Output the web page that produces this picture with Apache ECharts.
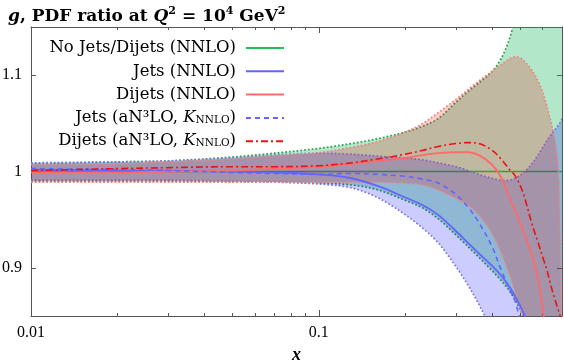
<!DOCTYPE html>
<html><head><meta charset="utf-8">
<script src="https://cdn.jsdelivr.net/npm/echarts@6/dist/echarts.min.js"></script>
<style>html,body{margin:0;padding:0;background:#fff}#c{width:564px;height:360px}</style>
</head><body><div id="c"></div>
<script>
// ---- data ----
const X = [0.01,0.02,0.03,0.05,0.07,0.1,0.13,0.16,0.2,0.23,0.26,0.3,0.33,0.36,0.4,0.43,0.46,0.48,0.5,0.52,0.55,0.58,0.6,0.62,0.64,0.66,0.68,0.69,0.7];
// No Jets/Dijets (NNLO) band
const greenHi = [1.008,1.010,1.011,1.015,1.019,1.024,1.029,1.034,1.041,1.047,1.055,1.072,1.083,1.092,1.104,1.117,1.138,1.158,1.18,1.2,1.23,1.26,1.28,1.3,1.32,1.34,1.36,1.37,1.38];
const greenLo = [0.990,0.990,0.990,0.989,0.989,0.988,0.986,0.981,0.970,0.962,0.951,0.934,0.922,0.911,0.897,0.887,0.876,0.867,0.857,0.847,0.83,0.81,0.79,0.77,0.75,0.73,0.71,0.70,0.69];
// Jets (NNLO) band
const blueHi = [1.009,1.010,1.011,1.014,1.017,1.019,1.018,1.016,1.014,1.012,1.009,1.005,1.001,0.997,0.993,0.991,0.991,0.993,0.996,1.0,1.008,1.018,1.025,1.032,1.038,1.043,1.048,1.051,1.055];
const blueLo = [0.991,0.991,0.991,0.990,0.989,0.987,0.983,0.973,0.955,0.941,0.926,0.901,0.882,0.862,0.835,0.815,0.795,0.78,0.765,0.75,0.725,0.70,0.68,0.66,0.64,0.62,0.60,0.59,0.58];
// Dijets (NNLO) band
const redHi = [1.007,1.008,1.010,1.013,1.016,1.0196,1.025,1.031,1.041,1.050,1.061,1.075,1.085,1.094,1.104,1.111,1.117,1.119,1.118,1.114,1.105,1.093,1.082,1.068,1.052,1.034,1.0,0.93,0.75];
const redLo = [0.989,0.989,0.989,0.989,0.989,0.989,0.989,0.989,0.988,0.986,0.981,0.972,0.965,0.955,0.936,0.916,0.893,0.876,0.859,0.842,0.82,0.79,0.77,0.75,0.73,0.71,0.69,0.68,0.67];
// central lines
const noJets = [1,1,1,1,1,1,1,1,1,1,1,1,1,1,1,1,1,1,1,1,1,1,1,1,1,1,1,1,1];
const jetsNNLO = [1.002,1.001,1.001,1.000,0.999,0.997,0.993,0.985,0.973,0.965,0.955,0.938,0.926,0.915,0.902,0.892,0.880,0.871,0.861,0.850,0.830];
const jetsN3LO = [1.003,1.002,1.001,0.999,0.998,0.997,0.998,0.997,0.995,0.992,0.988,0.976,0.963,0.947,0.922,0.898,0.878,0.866,0.847,0.830];
const dijetsNNLO = [0.999,0.999,1.000,1.001,1.003,1.005,1.008,1.011,1.014,1.017,1.019,1.020,1.020,1.017,1.007,0.994,0.973,0.960,0.947,0.934,0.913,0.886,0.857,0.820];
const dijetsN3LO = [1.001,1.003,1.004,1.005,1.005,1.006,1.009,1.013,1.018,1.022,1.026,1.029,1.030,1.029,1.022,1.013,1.002,0.996,0.986,0.972,0.946,0.925,0.911,0.898,0.882,0.868,0.856,0.850,0.843];
const legendNames = ['No Jets/Dijets (NNLO)','Jets (NNLO)','Dijets (NNLO)','Jets (aN³LO, KNNLO)','Dijets (aN³LO, KNNLO)'];
const yTicks = [0.9, 1, 1.1];
const xMajor = [0.01, 0.1];
const xMinor = [0.02,0.03,0.04,0.05,0.06,0.07,0.08,0.09,0.2,0.3,0.4,0.5,0.6,0.7];

// ---- build ----
const FONT = "'Liberation Serif', serif";
const WIDE = "'DejaVu Serif', serif";
const pair = (arr) => arr.map((v, i) => [X[i], v]);
const SM = 0.35;

// centripetal Catmull-Rom through pixel points (obtained from api.coord)
function crSample(pts, n) {
  const out = [];
  const d = (a, b) => Math.max(Math.sqrt(Math.hypot(b[0]-a[0], b[1]-a[1])), 1e-3);
  const L = (a, b, ta, tb, t) => {
    const u = (t - ta) / (tb - ta);
    return [a[0] + (b[0]-a[0])*u, a[1] + (b[1]-a[1])*u];
  };
  for (let i = 0; i < pts.length - 1; i++) {
    const p0 = pts[Math.max(i-1,0)], p1 = pts[i], p2 = pts[i+1], p3 = pts[Math.min(i+2, pts.length-1)];
    const t0 = 0, t1 = t0 + d(p0,p1), t2 = t1 + d(p1,p2), t3 = t2 + d(p2,p3);
    for (let k = 0; k < n; k++) {
      const t = t1 + (t2 - t1) * k / n;
      const A1 = L(p0,p1,t0,t1,t), A2 = L(p1,p2,t1,t2,t), A3 = L(p2,p3,t2,t3,t);
      const B1 = L(A1,A2,t0,t2,t), B2 = L(A2,A3,t1,t3,t);
      out.push(L(B1,B2,t1,t2,t));
    }
  }
  out.push(pts[pts.length-1]);
  return out;
}

function band(name, lo, hi, fill, edge) {
  return {
    type:'custom', name, coordinateSystem:'cartesian2d', xAxisIndex:0, yAxisIndex:0,
    data: X.map((x, i) => [x, lo[i], hi[i]]), encode:{x:0, y:[1,2]}, silent:true, z:2,
    renderItem: (params, api) => {
      if (params.dataIndex !== 0) return null;
      const up = crSample(X.map((x, i) => api.coord([x, hi[i]])), 12);
      const dn = crSample(X.map((x, i) => api.coord([x, lo[i]])), 12);
      const cs = params.coordSys;
      const dot = {stroke:edge, lineWidth:1.7, lineDash:[1.7,2.1], fill:null};
      return {type:'group', clipPath:{type:'rect', shape:{x:cs.x, y:cs.y, width:cs.width, height:cs.height}},
        children:[
          {type:'polygon', shape:{points: up.concat(dn.slice().reverse())}, style:{fill, stroke:null}},
          {type:'polyline', shape:{points: up}, style:dot},
          {type:'polyline', shape:{points: dn}, style:dot}
        ]};
    }
  };
}
function line(name, arr, color, type, width, z) {
  return {type:'line', name, data:pair(arr), smooth:SM, symbol:'none', lineStyle:{color, width, type}, itemStyle:{color}, z};
}

const rich = {
  n:{fontFamily:WIDE, fontSize:16.5, color:'#000', lineHeight:15},
  it:{fontFamily:WIDE, fontSize:16.5, fontStyle:'italic', color:'#000', lineHeight:15},
  sub:{fontFamily:WIDE, fontSize:10.5, color:'#000', verticalAlign:'bottom', lineHeight:5}
};
const legendRich = {
  'No Jets/Dijets (NNLO)':'{n|No Jets/Dijets (NNLO)}',
  'Jets (NNLO)':'{n|Jets (NNLO)}',
  'Dijets (NNLO)':'{n|Dijets (NNLO)}',
  'Jets (aN³LO, KNNLO)':'{n|Jets (aN³LO, }{it|K}{sub|NNLO}{n|)}',
  'Dijets (aN³LO, KNNLO)':'{n|Dijets (aN³LO, }{it|K}{sub|NNLO}{n|)}'
};

const axisCol = '#555';
function xAx(pos, ticks, len, main) {
  return {
    type:'log', logBase:10, min:0.01, max:0.7, position:pos, gridIndex:0,
    axisLine:{show:main, lineStyle:{color:axisCol, width:1}},
    axisTick:{show:true, inside:true, length:len, customValues:ticks, lineStyle:{color:axisCol}},
    axisLabel:{show: main && pos==='bottom', customValues:ticks, margin:9, fontFamily:FONT, fontSize:16, color:'#000',
      formatter: v => (Math.abs(v-0.01)<1e-9 ? '0.01' : '0.1')},
    splitLine:{show:false}, minorTick:{show:false},
    name: (main && pos==='bottom') ? 'x' : '', nameLocation:'middle', nameGap:29,
    nameTextStyle:{fontFamily:FONT, fontSize:18, fontStyle:'italic', fontWeight:'bold', color:'#000'}
  };
}
function yAx(pos, label) {
  return {
    type:'value', min:0.85, max:1.15, position:pos,
    axisLine:{show:true, lineStyle:{color:axisCol, width:1}},
    axisTick:{show:true, inside:true, length:5, customValues:yTicks, lineStyle:{color:axisCol}},
    axisLabel:{show:label, customValues:yTicks, margin:9, fontFamily:FONT, fontSize:16, color:'#000',
      formatter: v => String(Math.round(v*10)/10)},
    splitLine:{show:false}
  };
}

const series = [
  line('No Jets/Dijets (NNLO)', noJets, '#22c050', 'solid', 1.6, 1),
  band('bandG', greenLo, greenHi, 'rgba(0,176,80,0.30)', '#2a9f48'),
  band('bandB', blueLo, blueHi, 'rgba(0,0,255,0.20)', '#7b74e6'),
  band('bandR', redLo, redHi, 'rgba(255,0,0,0.20)', '#f08080'),
  line('Jets (NNLO)', jetsNNLO, '#6464ff', 'solid', 1.8, 4),
  line('Dijets (NNLO)', dijetsNNLO, '#ff6a6a', 'solid', 1.8, 4),
  line('Jets (aN³LO, KNNLO)', jetsN3LO, '#6464ff', [5,4], 1.6, 4),
  line('Dijets (aN³LO, KNNLO)', dijetsN3LO, '#ee1111', [7,3,2,3], 1.6, 4)
];

const chart = echarts.init(document.getElementById('c'), null, {renderer:'canvas'});
chart.setOption({
  animation:false,
  backgroundColor:'#fff',
  title:{
    text:'{bi|g}{b|, PDF ratio at }{bi|Q}{bs|2}{b| = 10}{bs|4}{b| GeV}{bs|2}',
    left:3, top:1,
    textStyle:{rich:{
      b:{fontFamily:WIDE, fontSize:17, fontWeight:'bold', color:'#000', lineHeight:21},
      bi:{fontFamily:WIDE, fontSize:17, fontWeight:'bold', fontStyle:'italic', color:'#000', lineHeight:21},
      bs:{fontFamily:WIDE, fontSize:11, fontWeight:'bold', color:'#000', verticalAlign:'top', lineHeight:12}
    }}
  },
  grid:{left:31, right:2, top:27, bottom:44, containLabel:false, outerBoundsMode:'none'},
  xAxis:[xAx('bottom', xMajor, 6, true), xAx('bottom', xMinor, 3, false), xAx('top', xMajor, 6, true), xAx('top', xMinor, 3, false)],
  yAxis:[yAx('left', true), yAx('right', false)],
  legend:{
    data:legendNames, orient:'vertical', align:'right', right:274, top:34.5,
    itemWidth:38, itemHeight:14, itemGap:6.3, selectedMode:false,
    itemStyle:{opacity:0},
    formatter: n => legendRich[n],
    textStyle:{rich, padding:[0,5,0,0]}
  },
  series
});
</script></body></html>
